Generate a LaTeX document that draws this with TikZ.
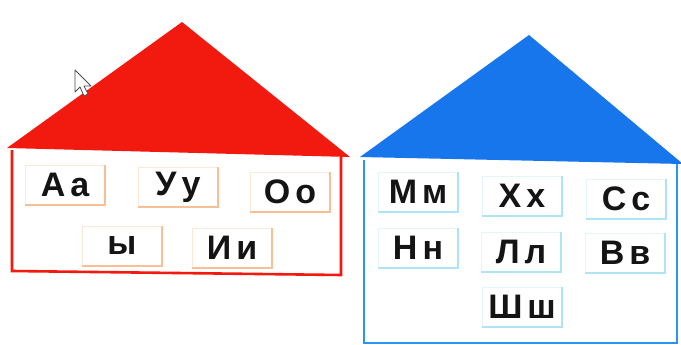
\documentclass[tikz,border=0pt]{standalone}
\usepackage{fontspec}
\setmainfont{Liberation Sans}
\definecolor{roofred}{RGB}{242,26,14}
\definecolor{roofblue}{RGB}{24,118,236}
\definecolor{wallblue}{RGB}{40,150,240}
\definecolor{shadred}{RGB}{248,190,150}
\definecolor{shadblue}{RGB}{175,228,245}
\definecolor{letter}{RGB}{20,20,20}
\begin{document}
\begin{tikzpicture}[x=1pt,y=-1pt,
  card/.style={rectangle, fill=white, draw=#1!35, line width=0.6pt, inner sep=0pt,
    minimum width=80pt, minimum height=39pt,
    font=\fontsize{34}{34}\selectfont\bfseries, text=letter},
  rshad/.style={draw=shadred, line width=2pt},
  bshad/.style={draw=shadblue, line width=2pt}]
\useasboundingbox (0,0) rectangle (681,345);
\fill[white] (0,0) rectangle (681,345);
% red house
\fill[roofred] (7,148) -- (182,22) -- (350,157) -- cycle;
\draw[roofred, line width=2.6pt] (12,150) -- (12,271) -- (341,275) -- (341,156);
% blue house
\fill[roofblue] (360,157) -- (529,35) -- (683,164) -- cycle;
\draw[wallblue, line width=2.6pt] (364,160) -- (364,343) -- (677,343) -- (677,164);
% cursor
\draw[black!70, fill=white, line width=0.8pt, line join=round]
  (75,70) -- (75,92) -- (80,87) -- (84,96) -- (88,94) -- (84,86) -- (91,86) -- cycle;
% red cards
\node[card=shadred] (aa) at (65,185) {А\hspace{5pt}а};
\node[card=shadred] (uu) at (178,187) {У\hspace{5pt}у};
\node[card=shadred] (oo) at (290,192) {О\hspace{5pt}о};
\node[card=shadred] (yy) at (122,246) {ы};
\node[card=shadred] (ii) at (232,248) {И\hspace{5pt}и};
\foreach \n in {aa,uu,oo,yy,ii}
  \draw[rshad] (\n.north east) -- (\n.south east) -- (\n.south west);
% blue cards
\node[card=shadblue] (mm) at (418,192) {М\hspace{5pt}м};
\node[card=shadblue] (hh) at (522,196) {Х\hspace{5pt}х};
\node[card=shadblue] (ss) at (626,199) {С\hspace{5pt}с};
\node[card=shadblue] (nn) at (418,248) {Н\hspace{5pt}н};
\node[card=shadblue] (ll) at (521,252) {Л\hspace{5pt}л};
\node[card=shadblue] (vv) at (625,253) {В\hspace{5pt}в};
\node[card=shadblue] (sh) at (522,307) {Ш\hspace{5pt}ш};
\foreach \n in {mm,hh,ss,nn,ll,vv,sh}
  \draw[bshad] (\n.north east) -- (\n.south east) -- (\n.south west);
\end{tikzpicture}
\end{document}
